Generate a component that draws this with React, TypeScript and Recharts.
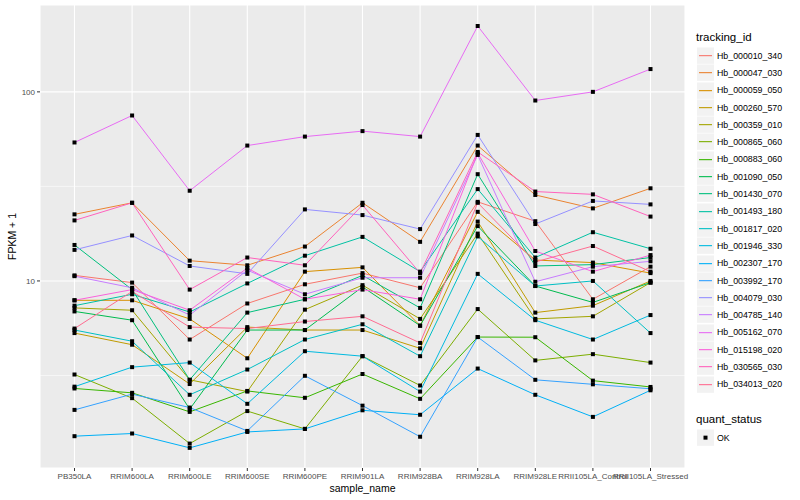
import { LineChart, Line, XAxis, YAxis, CartesianGrid, ReferenceLine } from 'recharts';

const FONT = '"Liberation Sans", Arial, sans-serif';

const SAMPLES = [
  'PB350LA', 'RRIM600LA', 'RRIM600LE', 'RRIM600SE', 'RRIM600PE', 'RRIM901LA',
  'RRIM928BA', 'RRIM928LA', 'RRIM928LE', 'RRII105LA_Control', 'RRII105LA_Stressed',
];

const TRACKING_IDS = [
  'Hb_000010_340', 'Hb_000047_030', 'Hb_000059_050', 'Hb_000260_570', 'Hb_000359_010',
  'Hb_000865_060', 'Hb_000883_060', 'Hb_001090_050', 'Hb_001430_070', 'Hb_001493_180',
  'Hb_001817_020', 'Hb_001946_330', 'Hb_002307_170', 'Hb_003992_170', 'Hb_004079_030',
  'Hb_004785_140', 'Hb_005162_070', 'Hb_015198_020', 'Hb_030565_030', 'Hb_034013_020',
];

// ggplot2 default hue palette, 20 levels
const COLORS = [
  '#F8766D', '#EA8331', '#D89000', '#C09B00', '#A3A500', '#7CAE00', '#39B600', '#00BB4E',
  '#00BF7D', '#00C1A3', '#00BFC4', '#00BAE0', '#00B0F6', '#35A2FF', '#9590FF', '#C77CFF',
  '#E76BF3', '#FA62DB', '#FF62BC', '#FF6C91',
];

const Y_TICKS = [10, 100];
const Y_MINOR = [3.162, 31.62];

// FPKM + 1, one value per sample
const hb000010 = [10.7, 9.8, 4.9, 7.6, 9.6, 11.0, 9.2, 26.2, 20.7, 8.0, 11.9];
const hb000047 = [22.5, 25.9, 12.8, 12.1, 15.2, 25.9, 16.1, 52, 28.5, 24.2, 30.9];
const hb000059 = [7.9, 7.9, 6.3, 3.9, 11.2, 11.8, 5.8, 23.2, 12.9, 12.5, 11.0];
const hb000260 = [5.3, 4.6, 2.85, 5.7, 5.5, 5.5, 4.4, 20.6, 6.8, 7.4, 10.0];
const hb000359 = [7.2, 7.0, 3.0, 2.6, 7.05, 9.5, 6.3, 17.8, 6.3, 6.5, 9.8];
const hb000865 = [3.2, 2.4, 1.38, 2.05, 1.65, 4.0, 2.8, 7.1, 3.8, 4.1, 3.7];
const hb000883 = [2.7, 2.56, 2.03, 2.62, 2.41, 3.22, 2.38, 5.05, 5.04, 2.97, 2.75];
const hb001090 = [6.9, 6.2, 2.1, 5.5, 5.5, 9.3, 5.8, 19.5, 9.4, 7.7, 9.8];
const hb001430 = [15.5, 9.0, 3.0, 6.8, 8.0, 10.7, 7.2, 36.7, 12.0, 12.2, 13.3];
const hb001493 = [7.4, 8.5, 6.85, 9.7, 13.6, 17.1, 11.2, 30.6, 13.3, 18.1, 14.8];
const hb001817 = [5.5, 4.8, 2.5, 3.4, 4.9, 5.9, 4.0, 17.2, 9.4, 10.0, 5.3];
const hb001946 = [2.76, 3.5, 3.7, 2.24, 4.25, 4.0, 2.6, 10.9, 6.2, 4.9, 6.6];
const hb002307 = [1.51, 1.56, 1.31, 1.59, 1.65, 2.07, 1.96, 3.44, 2.5, 1.91, 2.64];
const hb003992 = [2.08, 2.52, 2.14, 1.61, 3.15, 2.19, 1.5, 5.05, 3.0, 2.84, 2.69];
const hb004079 = [14.6, 17.4, 12.0, 10.9, 23.9, 22.3, 18.8, 59.2, 20.0, 26.5, 25.4];
const hb004785 = [10.6, 9.2, 6.6, 11.4, 8.5, 10.4, 10.4, 46.4, 9.9, 11.9, 12.7];
const hb005162 = [54, 75, 30, 52, 58, 62, 58, 223, 90, 100, 132];
const hb015198 = [7.9, 9.0, 7.0, 11.7, 8.0, 9.0, 8.0, 47.4, 14.4, 11.2, 13.7];
const hb030565 = [20.9, 25.9, 9.0, 13.3, 12.1, 25.2, 11.0, 48.1, 29.7, 28.7, 21.9];
const hb034013 = [5.6, 8.8, 5.7, 5.6, 6.1, 6.5, 4.7, 25.9, 12.6, 15.3, 11.2];

const SERIES = [
  hb000010, hb000047, hb000059, hb000260, hb000359, hb000865, hb000883, hb001090, hb001430, hb001493,
  hb001817, hb001946, hb002307, hb003992, hb004079, hb004785, hb005162, hb015198, hb030565, hb034013,
];

const data = SAMPLES.map((sample, i) => {
  const row: Record<string, string | number> = { sample };
  TRACKING_IDS.forEach((id, k) => {
    row[id] = SERIES[k][i];
  });
  return row;
});

const squareDot = (props: any) => {
  const { cx, cy, index, dataKey } = props;
  if (cx == null || cy == null) return <g key={`${dataKey}-${index}`} />;
  return <rect key={`${dataKey}-${index}`} x={cx - 2} y={cy - 2} width={4} height={4} fill="#000" />;
};

const ROW_H = 17.3;

function KeyBox({ children }: { children: any }) {
  return (
    <svg width={17} height={ROW_H} style={{ display: 'block', flex: 'none' }}>
      <rect x={0} y={0.5} width={17} height={ROW_H - 1} fill="#F2F2F2" />
      {children}
    </svg>
  );
}

function LegendBox() {
  return (
    <div style={{ position: 'absolute', left: 697, top: 27, fontFamily: FONT, color: '#000' }}>
      <div style={{ fontSize: 11.5, height: 20, lineHeight: '20px', marginLeft: -1 }}>tracking_id</div>
      {TRACKING_IDS.map((id, k) => (
        <div key={id} style={{ display: 'flex', alignItems: 'center', height: ROW_H }}>
          <KeyBox>
            <line x1={2} x2={15} y1={ROW_H / 2} y2={ROW_H / 2} stroke={COLORS[k]} strokeWidth={1.1} />
          </KeyBox>
          <span style={{ fontSize: 8.8, marginLeft: 3 }}>{id}</span>
        </div>
      ))}
      <div style={{ fontSize: 11.5, height: 20, lineHeight: '20px', marginTop: 16, marginLeft: -1 }}>quant_status</div>
      <div style={{ display: 'flex', alignItems: 'center', height: ROW_H }}>
        <KeyBox>
          <rect x={6.5} y={ROW_H / 2 - 2} width={4} height={4} fill="#000" />
        </KeyBox>
        <span style={{ fontSize: 8.8, marginLeft: 3 }}>OK</span>
      </div>
    </div>
  );
}

export default function App() {
  if (typeof document !== 'undefined') document.body.style.margin = '0';

  return (
    <div style={{ position: 'relative', width: 800, height: 500, background: '#fff' }}>
      <LineChart width={800} height={500} data={data} margin={{ top: 5, right: 115, bottom: 0, left: 0 }}>
        <CartesianGrid stroke="#fff" strokeWidth={1.1} fill="#EBEBEB" />
        {Y_MINOR.map((v) => (
          <ReferenceLine key={v} y={v} stroke="#fff" strokeWidth={0.55} />
        ))}
        <XAxis
          dataKey="sample"
          interval={0}
          padding={{ left: 34.5, right: 34.5 }}
          height={32}
          tickSize={3}
          tickMargin={2}
          axisLine={false}
          tickLine={{ stroke: '#333' }}
          tick={{ fontSize: 8, fill: '#4D4D4D', fontFamily: FONT }}
          label={(props: any) => {
            const vb = props.viewBox;
            return (
              <text x={vb.x + vb.width / 2} y={vb.y + vb.height - 8} textAnchor="middle" fontSize={10.5} fontFamily={FONT} fill="#000">
                sample_name
              </text>
            );
          }}
        />
        <YAxis
          type="number"
          scale="log"
          domain={[1.025, 288]}
          allowDataOverflow
          ticks={Y_TICKS}
          width={40}
          tickSize={3}
          tickMargin={2}
          axisLine={false}
          tickLine={{ stroke: '#333' }}
          tick={{ fontSize: 8, fill: '#4D4D4D', fontFamily: FONT }}
          label={(props: any) => {
            const vb = props.viewBox;
            const cy = vb.y + vb.height / 2;
            return (
              <text x={12} y={cy} transform={`rotate(-90 12 ${cy})`} textAnchor="middle" dominantBaseline="central" fontSize={10.5} fontFamily={FONT} fill="#000">
                FPKM + 1
              </text>
            );
          }}
        />
        {TRACKING_IDS.map((id, k) => (
          <Line
            key={id}
            type="linear"
            dataKey={id}
            stroke={COLORS[k]}
            strokeWidth={1}
            dot={false}
            activeDot={false}
            isAnimationActive={false}
          />
        ))}
        {TRACKING_IDS.map((id) => (
          <Line
            key={`pt-${id}`}
            type="linear"
            dataKey={id}
            stroke="none"
            dot={squareDot}
            activeDot={false}
            legendType="none"
            isAnimationActive={false}
          />
        ))}
      </LineChart>
      <LegendBox />
    </div>
  );
}
